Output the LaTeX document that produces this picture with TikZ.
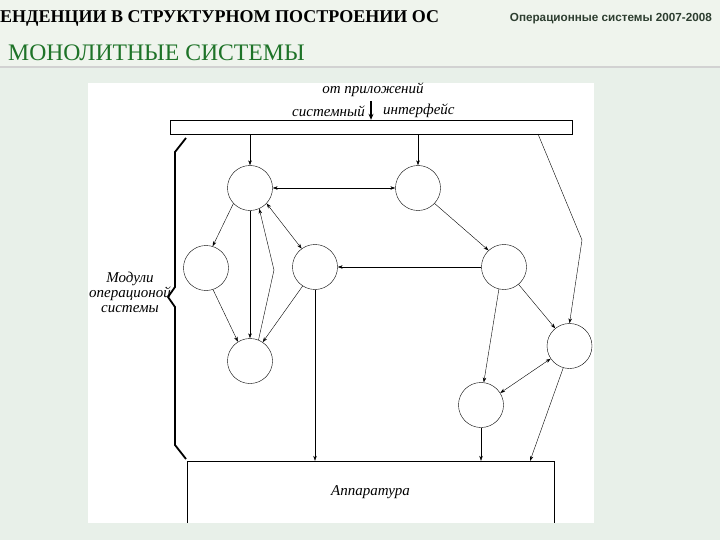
\documentclass[tikz,border=0pt]{standalone}
\usepackage{fontspec}
\setmainfont{Liberation Serif}
\newfontfamily\headsans{Liberation Sans}
\usetikzlibrary{arrows.meta, positioning, calc}
\definecolor{bgmint}{RGB}{232,240,233}
\definecolor{headmint}{RGB}{239,244,237}
\definecolor{titlegreen}{RGB}{30,115,40}
\definecolor{headgray}{RGB}{45,62,48}
\tikzset{
  modul/.style={circle, draw, thin, minimum size=45pt, inner sep=0pt},
  pfeil/.style={-{Stealth[length=5pt, width=3.5pt]}, thin},
  dpfeil/.style={{Stealth[length=5pt, width=3.5pt]}-{Stealth[length=5pt, width=3.5pt]}, thin},
  schrift/.style={font=\fontsize{15}{15}\selectfont\itshape, inner sep=0pt}
}
\begin{document}
\begin{tikzpicture}[x=1pt, y=-1pt]
    % Background and white panel
    \useasboundingbox (0,0) rectangle (720,540);
    \fill[bgmint] (0,0) rectangle (720,540);
    \fill[headmint] (0,0) rectangle (720,66);
    \draw[gray!35, line width=1.5pt] (0,67) -- (720,67);
    \fill[white] (88,83) rectangle (594,523);

    % Headings
    \node[anchor=west, inner sep=0pt, font=\fontsize{18}{20}\selectfont\bfseries] (titel) at (0,18) {ЕНДЕНЦИИ В СТРУКТУРНОМ ПОСТРОЕНИИ ОС};
    \node[anchor=east, inner sep=0pt, headgray, font=\headsans\bfseries\fontsize{11.7}{13}\selectfont] (kurs) at (712,19) {Операционные системы 2007-2008};
    \node[anchor=west, inner sep=0pt, titlegreen, font=\fontsize{23.7}{26}\selectfont] (thema) at (8,53) {МОНОЛИТНЫЕ СИСТЕМЫ};

    % System interface bar
    \node[draw, thin, minimum width=402pt, minimum height=14pt, inner sep=0pt] (bar) at (371,127) {};
    \node[schrift] (vonapp) at (373,90) {от приложений};
    \node[schrift, anchor=east] (sysl) at (365,111) {системный};
    \node[schrift, anchor=west] (sysr) at (383,111) {интерфейс};
    \coordinate (ein) at (371,101);
    \draw[-{Stealth[length=6pt, width=5pt]}, line width=1.6pt] (ein) -- (ein |- bar.north);

    % Hardware
    \node[schrift, minimum width=367pt, minimum height=62pt] (app) at (370.5,492) {Аппаратура};
    \draw[thin] (app.south west) |- (app.north east) -- (app.south east);

    % Brace with label
    \draw[line width=1.8pt] (186,138) -- (175,152) -- (175,287) -- (168,297) -- (175,307) -- (175,445) -- (186,459);
    \node[schrift, align=center] (modlab) at (130,292) {Модули\\операционой\\системы};

    % Modules
    \node[modul] (m1) at (250,188) {};
    \node[modul] (m2) at (418,188) {};
    \node[modul] (m3) at (206,268) {};
    \node[modul] (m4) at (315,267) {};
    \node[modul] (m5) at (250,361) {};
    \node[modul] (m6) at (504,267) {};
    \node[modul] (m7) at (569.5,346) {};
    \node[modul] (m8) at (481,405) {};

    % Calls between modules
    \coordinate (bstart) at (538,134);
    \coordinate (knick) at (582,240);
    \coordinate (knick5) at (274,270);
    \coordinate (aziel) at (530,461);
    \draw[pfeil] (bar.south -| m1) -- (m1);
    \draw[pfeil] (bar.south -| m2) -- (m2);
    \draw[pfeil] (bstart) -- (knick) -- (m7.north);
    \draw[dpfeil] (m1) -- (m2);
    \draw[pfeil] (m1.223) -- (m3.73);
    \draw[pfeil] (m1) -- (m5);
    \draw[pfeil] (m5.68) -- (knick5) -- (m1.-66);
    \draw[dpfeil] (m1.-43) -- (m4.126);
    \draw[pfeil] (m3.-72) -- (m5.122);
    \draw[pfeil] (m4.237) -- (m5.56);
    \draw[pfeil] (m2.-43) -- (m6.133);
    \draw[pfeil] (m6) -- (m4);
    \draw[pfeil] (m4) -- (m4 |- app.north);
    \draw[pfeil] (m6.257) -- (m8.83);
    \draw[pfeil] (m6.-50) -- (m7.129);
    \draw[dpfeil] (m7.214) -- (m8.32);
    \draw[pfeil] (m7.254) -- (aziel);
    \draw[pfeil] (m8) -- (m8 |- app.north);
\end{tikzpicture}
\end{document}
